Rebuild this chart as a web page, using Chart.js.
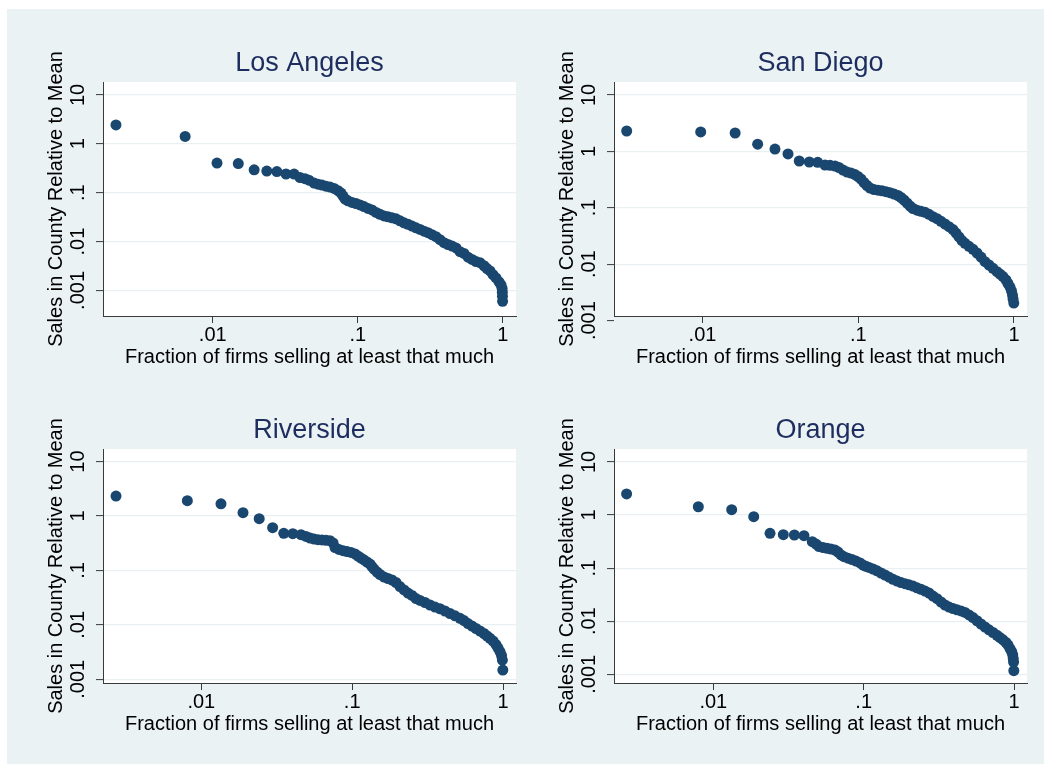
<!DOCTYPE html>
<html>
<head>
<meta charset="utf-8">
<title>Firm size distributions by county</title>
<script src="https://cdn.jsdelivr.net/npm/chart.js@4.4.1/dist/chart.umd.min.js"></script>
<style>
  html, body { margin: 0; padding: 0; background: #ffffff; overflow: hidden; width: 1050px; height: 772px; }
  #frame { position: absolute; left: 7px; top: 9px; width: 1037px; height: 755px; background: #eaf2f3; }
  canvas { position: absolute; }
</style>
</head>
<body>
<div id="frame"></div>
<canvas id="c0" width="486" height="339" style="left:40px;top:37px"></canvas>
<canvas id="c1" width="486" height="339" style="left:551px;top:37px"></canvas>
<canvas id="c2" width="486" height="339" style="left:40px;top:404px"></canvas>
<canvas id="c3" width="486" height="339" style="left:551px;top:404px"></canvas>
<script>
// Axis ticks and titles
const yTickValues = [0.001, 0.01, 0.1, 1, 10];
const yTickLabels = ['.001', '.01', '.1', '1', '10'];
const xTickValues = [0.01, 0.1, 1];
const xTickLabels = ['.01', '.1', '1'];
const xTitle = 'Fraction of firms selling at least that much';
const yTitle = 'Sales in County Relative to Mean';
const counties = ['Los Angeles', 'San Diego', 'Riverside', 'Orange'];

// Los Angeles: share of firms selling at least that much, and sales relative to the county mean
const laShare = [0.00215, 0.00645, 0.0107, 0.0150, 0.0193, 0.0236, 0.0277, 0.0320, 0.0364,
  0.0400, 0.0433, 0.0461, 0.0500, 0.0532, 0.0567, 0.0604, 0.0644, 0.0687, 0.0731,
  0.0767, 0.0792, 0.0818, 0.0857, 0.0913, 0.0973, 0.1037, 0.1105, 0.1178, 0.1255,
  0.1338, 0.1425, 0.1519, 0.1618, 0.1724, 0.1837, 0.1957, 0.2086, 0.2222, 0.2368,
  0.2524, 0.2689, 0.2866, 0.3053, 0.3254, 0.3467, 0.3694, 0.3937, 0.4195, 0.4470,
  0.4764, 0.5076, 0.5409, 0.5764, 0.6142, 0.6545, 0.6974, 0.7430, 0.7794, 0.8175,
  0.8573, 0.8991, 0.9430, 0.9734, 0.990, 0.994, 0.996, 0.998];
const laSales = [2.43, 1.41, 0.404, 0.393, 0.294, 0.277, 0.270, 0.241, 0.240,
  0.204, 0.193, 0.180, 0.157, 0.149, 0.143, 0.136, 0.130, 0.122, 0.110,
  0.098, 0.085, 0.074, 0.068, 0.063, 0.060, 0.056, 0.052, 0.0476, 0.0444,
  0.0395, 0.0360, 0.0335, 0.0320, 0.0305, 0.0291, 0.0265, 0.0242, 0.0225, 0.0207,
  0.0191, 0.0177, 0.0163, 0.0152, 0.0138, 0.0126, 0.0109, 0.0095, 0.0087, 0.0081,
  0.0074, 0.0062, 0.0057, 0.0048, 0.0043, 0.0039, 0.0037, 0.0032, 0.0028, 0.0025,
  0.0021, 0.0018, 0.0015, 0.0013, 0.0011, 0.00092, 0.00076, 0.0006];

// San Diego
const sdShare = [0.00326, 0.00974, 0.0162, 0.0226, 0.0292, 0.0354, 0.0418, 0.0485, 0.0549,
  0.0612, 0.0659, 0.0709, 0.0752, 0.0798, 0.0847, 0.0898, 0.0953, 0.0996, 0.1041,
  0.1089, 0.1138, 0.1190, 0.1262, 0.1339, 0.1421, 0.1508, 0.1599, 0.1697, 0.1800,
  0.1882, 0.1966, 0.2056, 0.2149, 0.2246, 0.2383, 0.2529, 0.2683, 0.2847, 0.3020,
  0.3204, 0.3399, 0.3606, 0.3826, 0.4058, 0.4243, 0.4435, 0.4636, 0.4846, 0.5142,
  0.5455, 0.5787, 0.6139, 0.6514, 0.6911, 0.7332, 0.7779, 0.8128, 0.8502, 0.8884,
  0.9152, 0.9426, 0.964, 0.978, 0.986, 0.997];
const sdSales = [2.30, 2.21, 2.12, 1.34, 1.10, 0.90, 0.676, 0.649, 0.641,
  0.574, 0.567, 0.551, 0.518, 0.468, 0.431, 0.414, 0.389, 0.359, 0.324,
  0.281, 0.2485, 0.2245, 0.2111, 0.2052, 0.2002, 0.1930, 0.1852, 0.1757, 0.1652,
  0.1523, 0.1375, 0.1216, 0.1076, 0.0972, 0.0907, 0.0867, 0.0832, 0.0767, 0.0696,
  0.0641, 0.0576, 0.0516, 0.0462, 0.0412, 0.0357, 0.0304, 0.0263, 0.0235, 0.0208,
  0.0184, 0.0158, 0.0134, 0.0111, 0.00968, 0.00846, 0.00736, 0.0067, 0.00605, 0.00525,
  0.00455, 0.00394, 0.00335, 0.00284, 0.00242, 0.00205];

// Riverside
const rvShare = [0.00272, 0.00808, 0.0135, 0.0189, 0.0242, 0.0297, 0.0352, 0.0404, 0.0458,
  0.0494, 0.0526, 0.0559, 0.0594, 0.0631, 0.0671, 0.0713, 0.0747, 0.0770, 0.0818,
  0.0870, 0.0924, 0.0983, 0.1044, 0.1093, 0.1145, 0.1198, 0.1254, 0.1313, 0.1354,
  0.1396, 0.1461, 0.1530, 0.1626, 0.1728, 0.1837, 0.1953, 0.2076, 0.2207, 0.2345,
  0.2493, 0.2651, 0.2818, 0.3040, 0.3282, 0.3541, 0.3823, 0.4125, 0.4453, 0.4807,
  0.5188, 0.5514, 0.5861, 0.6229, 0.6622, 0.7039, 0.7483, 0.7834, 0.8200, 0.8585,
  0.8987, 0.9264, 0.9552, 0.9775, 0.990, 0.997];
const rvSales = [2.33, 1.91, 1.68, 1.15, 0.893, 0.610, 0.482, 0.474, 0.454,
  0.421, 0.395, 0.378, 0.367, 0.363, 0.358, 0.352, 0.320, 0.264, 0.243,
  0.231, 0.223, 0.214, 0.201, 0.184, 0.169, 0.156, 0.143, 0.131, 0.118,
  0.106, 0.0937, 0.0843, 0.0758, 0.0712, 0.0668, 0.0601, 0.0507, 0.0438, 0.0385,
  0.0347, 0.0305, 0.0281, 0.0258, 0.0232, 0.0213, 0.0198, 0.0180, 0.0162, 0.0147,
  0.0132, 0.0120, 0.0106, 0.00954, 0.00859, 0.00772, 0.00695, 0.00625, 0.00567, 0.00506,
  0.00436, 0.00376, 0.00324, 0.00274, 0.00226, 0.00148];

// Orange
const orShare = [0.00265, 0.00795, 0.01325, 0.01857, 0.02383, 0.02922, 0.0346, 0.0401, 0.0455,
  0.0482, 0.0505, 0.0537, 0.0571, 0.0606, 0.0645, 0.0675, 0.0707, 0.0740, 0.0787,
  0.0837, 0.0889, 0.0946, 0.0990, 0.1036, 0.1085, 0.1154, 0.1227, 0.1304, 0.1387,
  0.1474, 0.1568, 0.1667, 0.1772, 0.1884, 0.2002, 0.2129, 0.2263, 0.2406, 0.2559,
  0.2720, 0.2892, 0.3076, 0.3270, 0.3476, 0.3695, 0.3929, 0.4177, 0.4441, 0.4721,
  0.5020, 0.5337, 0.5673, 0.6032, 0.6413, 0.6818, 0.7248, 0.7706, 0.8070, 0.8450,
  0.8847, 0.9122, 0.9406, 0.9654, 0.9804, 0.988, 0.993, 0.997];
const orSales = [2.49, 1.43, 1.26, 0.929, 0.452, 0.426, 0.420, 0.408, 0.314,
  0.284, 0.255, 0.244, 0.236, 0.229, 0.219, 0.201, 0.177, 0.164, 0.154,
  0.145, 0.136, 0.125, 0.114, 0.108, 0.103, 0.0962, 0.0890, 0.0809, 0.0742,
  0.0674, 0.0615, 0.0571, 0.0533, 0.0508, 0.0485, 0.0460, 0.0426, 0.0399, 0.0370,
  0.0340, 0.0298, 0.0265, 0.0230, 0.0202, 0.0185, 0.0173, 0.0164, 0.0156, 0.0146,
  0.0131, 0.0117, 0.0102, 0.00886, 0.00778, 0.00689, 0.00613, 0.00543, 0.00493, 0.00446,
  0.00397, 0.00356, 0.00306, 0.00266, 0.00231, 0.00198, 0.00170, 0.00117];

// Axis limits of each panel
const laXRange = [0.00175, 1.235], laYRange = [0.000329, 18.35];
const sdXRange = [0.002703, 1.212], sdYRange = [0.001207, 17.0];
const rvXRange = [0.00223, 1.219], rvYRange = [0.000856, 17.04];
const orXRange = [0.002185, 1.220], orYRange = [0.000686, 17.5];

// Styling
const FONT = '"Liberation Sans", Arial, Helvetica, sans-serif';
const MARKER = '#1a476f';
const TITLE_COLOR = '#1e2d5f';
const AXIS = '#3a3a3a';
const GRID = '#e8f0f1';
Chart.defaults.font.family = FONT;
Chart.defaults.color = '#000000';

const panels = [
  { id: 'c0', title: counties[0], share: laShare, sales: laSales, xr: laXRange, yr: laYRange },
  { id: 'c1', title: counties[1], share: sdShare, sales: sdSales, xr: sdXRange, yr: sdYRange },
  { id: 'c2', title: counties[2], share: rvShare, sales: rvSales, xr: rvXRange, yr: rvYRange },
  { id: 'c3', title: counties[3], share: orShare, sales: orSales, xr: orXRange, yr: orYRange }
];

// White plot region and the county heading over it
const panelDecor = {
  id: 'panelDecor',
  beforeDraw(chart) {
    const { ctx, chartArea: a } = chart;
    ctx.save();
    ctx.fillStyle = '#ffffff';
    ctx.fillRect(a.left, a.top, a.right - a.left, a.bottom - a.top);
    ctx.restore();
  },
  afterDraw(chart, args, opts) {
    const { ctx, chartArea: a } = chart;
    ctx.save();
    ctx.font = '27px ' + FONT;
    ctx.fillStyle = TITLE_COLOR;
    ctx.textAlign = 'center';
    ctx.textBaseline = 'alphabetic';
    ctx.fillText(opts.text, (a.left + a.right) / 2, a.top - 11);
    ctx.restore();
  }
};

function labelFor(values, labels) {
  return function (v) {
    const i = values.findIndex(t => Math.abs(Math.log10(t) - Math.log10(v)) < 1e-6);
    return i < 0 ? '' : labels[i];
  };
}

function inRange(c) {
  const s = c.scale;
  return c.tick && c.tick.value >= s.min * 0.999 && c.tick.value <= s.max * 1.001;
}

panels.forEach(p => {
  new Chart(document.getElementById(p.id), {
    type: 'scatter',
    data: {
      datasets: [{
        data: p.share.map((x, i) => ({ x: x, y: p.sales[i] })),
        backgroundColor: MARKER,
        borderWidth: 0,
        pointRadius: 5.5,
        pointHoverRadius: 5.5
      }]
    },
    options: {
      responsive: false,
      animation: false,
      events: [],
      layout: { padding: { top: 45, right: 10, left: 0, bottom: 0 } },
      plugins: {
        legend: { display: false },
        tooltip: { enabled: false },
        panelDecor: { text: p.title }
      },
      scales: {
        x: {
          type: 'logarithmic',
          position: 'bottom',
          min: p.xr[0],
          max: p.xr[1],
          afterBuildTicks: s => { s.ticks = xTickValues.map(v => ({ value: v })); },
          afterFit: s => { s.height = 60; },
          grid: { drawOnChartArea: false, drawTicks: true, tickLength: 7, tickColor: AXIS, tickWidth: 1 },
          border: { display: true, color: AXIS, width: 1 },
          ticks: {
            autoSkip: false, minRotation: 0, maxRotation: 0, padding: 0,
            color: '#000000', font: { size: 20 },
            callback: labelFor(xTickValues, xTickLabels)
          },
          title: { display: true, text: xTitle, color: '#000000', font: { size: 20 }, padding: { top: 0, bottom: 7 } }
        },
        y: {
          type: 'logarithmic',
          position: 'left',
          min: p.yr[0],
          max: p.yr[1],
          afterBuildTicks: s => { s.ticks = yTickValues.map(v => ({ value: v })); },
          afterFit: s => { s.width = 63; },
          grid: {
            drawOnChartArea: true, drawTicks: true, tickLength: 7,
            color: c => inRange(c) ? GRID : 'rgba(0,0,0,0)',
            lineWidth: 1.2,
            tickColor: AXIS, tickWidth: 1
          },
          border: { display: true, color: AXIS, width: 1 },
          ticks: {
            autoSkip: false, minRotation: 90, maxRotation: 90, crossAlign: 'center', padding: -2,
            color: '#000000', font: { size: 20 },
            callback: labelFor(yTickValues, yTickLabels)
          },
          title: { display: true, text: yTitle, color: '#000000', font: { size: 20 }, padding: { top: 4, bottom: 0 } }
        }
      }
    },
    plugins: [panelDecor]
  });
});
</script>
</body>
</html>
